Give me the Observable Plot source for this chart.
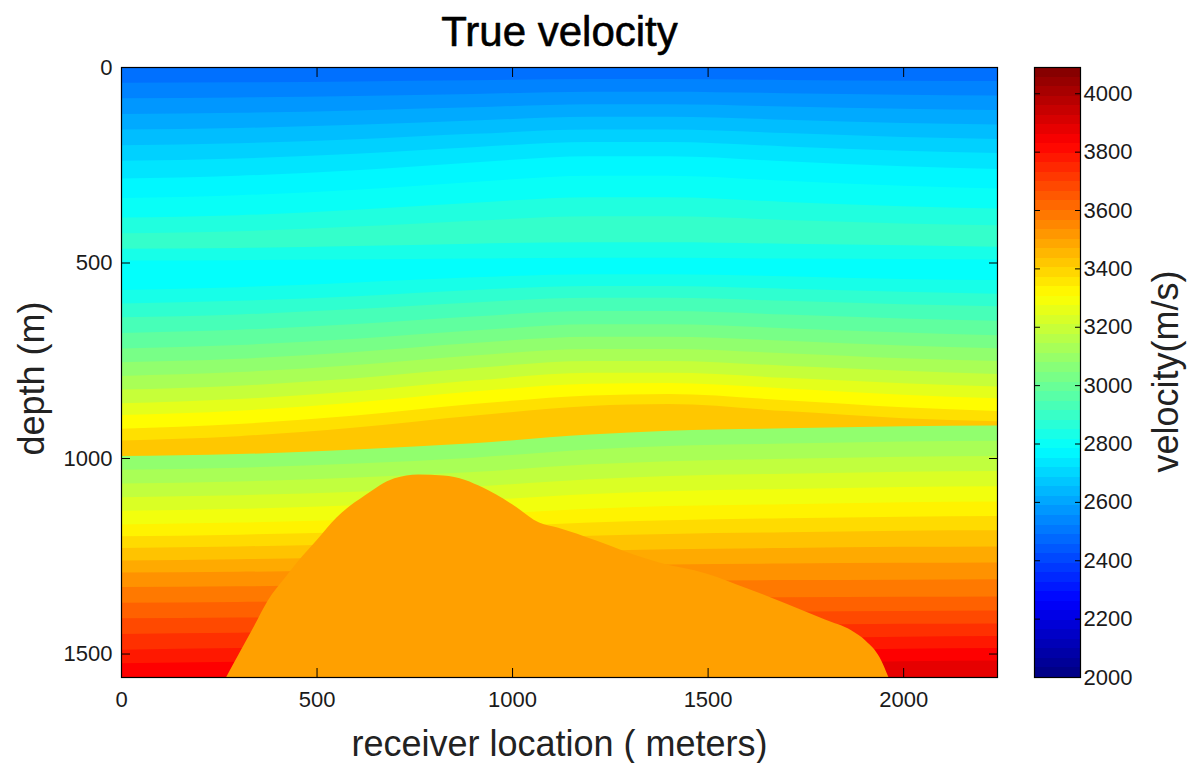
<!DOCTYPE html>
<html><head><meta charset="utf-8">
<script src="https://cdn.jsdelivr.net/npm/d3@7"></script>
<script src="https://cdn.jsdelivr.net/npm/@observablehq/plot@0.6"></script>
<style>
body{margin:0;background:#fff;}
#wrap{position:relative;width:1199px;height:763px;overflow:hidden;}
#main{position:absolute;left:0;top:0;}
#cbar{position:absolute;left:1010px;top:0;}
</style></head><body><div id="wrap"><div id="main"></div><div id="cbar"></div></div>
<script>
// ---------- data ----------
const titleText = "True velocity";
const xLabel = "receiver location ( meters)";
const yLabel = "depth (m)";
const cbLabel = "velocity(m/s)";

const xMax = 2240;          // receiver location extent (m)
const depthMax = 1560;      // depth extent (m)
const colorDomain = [2000, 4090];

const xTicks = [0, 500, 1000, 1500, 2000];
const yTicks = [0, 500, 1000, 1500];
const cbTicks = [2000, 2200, 2400, 2600, 2800, 3000, 3200, 3400, 3600, 3800, 4000];

// x positions where horizon depths were read
const xSamples = [0, 300, 600, 900, 1200, 1400, 1700, 2000, 2240];

// upper sediment package: velocity of the band below each horizon
const upperVelocities = [2490, 2530, 2570, 2610, 2650, 2690, 2730, 2770, 2800, 2850, 2890, 2830, 2790,
  2830, 2880, 2930, 2980, 3030, 3080, 3130, 3190, 3250, 3310, 3370, 3420];
const upperDepths = [
  [0, 0, 0, 0, 0, 0, 0, 0, 0],
  [40, 39, 37, 34, 31, 31, 33, 35, 36],
  [80, 78, 74, 69, 63, 63, 67, 71, 73],
  [120, 117, 111, 103, 95, 95, 101, 107, 110],
  [160, 156, 148, 137, 127, 127, 135, 143, 147],
  [200, 195, 185, 171, 160, 160, 169, 179, 184],
  [240, 234, 222, 205, 192, 192, 203, 214, 220],
  [285, 278, 264, 244, 228, 228, 241, 254, 261],
  [335, 328, 314, 294, 278, 278, 291, 304, 311],
  [385, 379, 365, 347, 333, 333, 345, 356, 362],
  [425, 420, 408, 393, 382, 382, 391, 400, 405],
  [465, 463, 458, 452, 448, 448, 452, 456, 460],
  [495, 494, 492, 490, 488, 488, 490, 491, 492],
  [570, 563, 551, 538, 530, 530, 535, 542, 545],
  [605, 598, 586, 570, 560, 560, 567, 575, 580],
  [640, 633, 619, 602, 590, 590, 598, 607, 612],
  [680, 672, 657, 638, 624, 624, 633, 643, 649],
  [720, 711, 695, 674, 658, 658, 668, 679, 686],
  [755, 746, 729, 706, 690, 690, 700, 712, 719],
  [790, 780, 762, 738, 721, 721, 732, 745, 752],
  [825, 815, 796, 770, 752, 752, 764, 777, 785],
  [860, 849, 829, 802, 782, 782, 795, 809, 817],
  [890, 879, 858, 830, 810, 808, 822, 838, 847],
  [925, 913, 891, 862, 840, 836, 852, 870, 880],
  [955, 944, 922, 892, 867, 862, 880, 898, 906]
];

// lower package (below the dipping interface)
const lowerVelocities = [3080, 3130, 3180, 3230, 3280, 3330, 3380, 3430, 3480, 3530, 3580, 3630,
  3680, 3730, 3780, 3830, 3880];
const lowerDepths = [
  [995, 990, 978, 962, 940, 930, 924, 919, 917],
  [1030, 1025, 1014, 999, 978, 969, 963, 958, 956],
  [1065, 1060, 1050, 1036, 1016, 1008, 1002, 997, 995],
  [1100, 1095, 1086, 1073, 1054, 1046, 1040, 1035, 1033],
  [1135, 1130, 1121, 1109, 1092, 1085, 1079, 1074, 1072],
  [1170, 1165, 1157, 1146, 1130, 1123, 1118, 1113, 1111],
  [1200, 1196, 1189, 1179, 1165, 1159, 1154, 1150, 1148],
  [1230, 1226, 1220, 1211, 1199, 1194, 1190, 1186, 1185],
  [1262, 1259, 1254, 1247, 1237, 1233, 1230, 1227, 1226],
  [1293, 1291, 1287, 1282, 1275, 1272, 1270, 1268, 1267],
  [1330, 1328, 1325, 1321, 1316, 1314, 1312, 1311, 1310],
  [1370, 1368, 1366, 1363, 1359, 1357, 1356, 1355, 1354],
  [1410, 1408, 1405, 1401, 1397, 1395, 1393, 1391, 1390],
  [1450, 1447, 1443, 1438, 1433, 1430, 1427, 1424, 1423],
  [1490, 1486, 1481, 1475, 1469, 1465, 1461, 1457, 1455],
  [1525, 1521, 1515, 1508, 1501, 1497, 1492, 1488, 1486],
  [1575, 1570, 1560, 1545, 1535, 1530, 1525, 1520, 1518]
];

// salt body outline (top of body) and its velocity
const saltVelocity = 3500;
const saltX =   [268, 300, 340, 375, 420, 454, 500, 551, 623, 699, 760, 824, 880, 924, 1000, 1069, 1118, 1215, 1284, 1376, 1496, 1600, 1700, 1800, 1868, 1904, 1940, 1963];
const saltTop = [1562, 1503, 1430, 1365, 1305, 1262, 1210, 1152, 1096, 1052, 1042, 1045, 1056, 1075, 1118, 1165, 1178, 1211, 1237, 1267, 1295, 1333, 1372, 1413, 1441, 1467, 1510, 1562];

// ---------- helpers ----------
function jet(t) {
  const c = x => Math.max(0, Math.min(1, x));
  const r = c(Math.min(4 * t - 1.5, -4 * t + 4.5));
  const g = c(Math.min(4 * t - 0.5, -4 * t + 3.5));
  const b = c(Math.min(4 * t + 0.5, -4 * t + 2.5));
  return `rgb(${Math.round(r * 255)},${Math.round(g * 255)},${Math.round(b * 255)})`;
}
const FONT = "'Liberation Sans', Arial, Helvetica, sans-serif";

const bandRows = [];
upperDepths.forEach((row, i) => row.forEach((d, j) => bandRows.push({id: "u" + i, x: xSamples[j], d, v: upperVelocities[i]})));
lowerDepths.forEach((row, i) => row.forEach((d, j) => bandRows.push({id: "l" + i, x: xSamples[j], d, v: lowerVelocities[i]})));
const saltRows = saltX.map((x, i) => ({x, d: saltTop[i], v: saltVelocity}));

const colorOpts = {type: "linear", domain: colorDomain, interpolate: jet};

const main = Plot.plot({
  width: 1010, height: 763,
  marginLeft: 121, marginRight: 13, marginTop: 67, marginBottom: 86,
  style: {fontFamily: FONT, background: "transparent", color: "#1a1a1a", overflow: "visible"},
  x: {domain: [0, xMax], label: null},
  y: {domain: [0, depthMax], reverse: true, label: null},
  color: colorOpts,
  marks: [
    Plot.areaY(bandRows, {x: "x", y1: "d", y2: () => depthMax, z: "id", fill: "v", curve: "monotone-x", clip: true}),
    Plot.areaY(saltRows, {x: "x", y1: "d", y2: () => depthMax, fill: "v", curve: "monotone-x", clip: true}),
    Plot.frame({stroke: "#000", strokeWidth: 1.2}),
    Plot.axisX({ticks: xTicks, tickSize: 0, tickPadding: 14, tickFormat: "d", fontSize: 22, label: null}),
    Plot.axisX({ticks: xTicks, tickSize: 9, dy: -9, tickFormat: () => "", label: null, stroke: "#000"}),
    Plot.axisX({anchor: "top", ticks: xTicks, tickSize: 9, dy: 9, tickFormat: () => "", label: null, stroke: "#000"}),
    Plot.axisY({ticks: yTicks, tickSize: 0, tickPadding: 9, tickFormat: "d", fontSize: 22, label: null}),
    Plot.axisY({ticks: yTicks, tickSize: 9, dx: 9, tickFormat: () => "", label: null, stroke: "#000"}),
    Plot.axisY({anchor: "right", ticks: yTicks, tickSize: 9, dx: -9, tickFormat: () => "", label: null, stroke: "#000"}),
    Plot.text([titleText], {frameAnchor: "top", lineAnchor: "middle", textAnchor: "middle", dy: -35, fontSize: 42, fill: "#000", stroke: "#000", strokeWidth: 0.6}),
    Plot.text([xLabel], {frameAnchor: "bottom", lineAnchor: "middle", textAnchor: "middle", dy: 67, fontSize: 36, fill: "#222"}),
    Plot.text([yLabel], {frameAnchor: "left", lineAnchor: "middle", textAnchor: "middle", rotate: -90, dx: -89, dy: 6, fontSize: 36, fill: "#222"})
  ]
});
document.getElementById("main").append(main);

const nSteps = 64;
const cbSteps = d3.range(nSteps).map(i => {
  const v0 = colorDomain[0] + i * (colorDomain[1] - colorDomain[0]) / nSteps;
  const v1 = colorDomain[0] + (i + 1) * (colorDomain[1] - colorDomain[0]) / nSteps;
  return {v0, v1, vm: (v0 + v1) / 2};
});

const cbar = Plot.plot({
  width: 189, height: 763,
  marginLeft: 24, marginRight: 119, marginTop: 67, marginBottom: 86,
  style: {fontFamily: FONT, background: "transparent", color: "#1a1a1a", overflow: "visible"},
  x: {domain: [0, 1], axis: null},
  y: {domain: colorDomain, label: null},
  color: colorOpts,
  marks: [
    Plot.rect(cbSteps, {x1: () => 0, x2: () => 1, y1: "v0", y2: "v1", fill: "vm", shapeRendering: "crispEdges"}),
    Plot.frame({stroke: "#000", strokeWidth: 1.2}),
    Plot.axisY({anchor: "right", ticks: cbTicks, tickSize: 0, tickPadding: 3, tickFormat: "d", fontSize: 22, label: null}),
    Plot.axisY({anchor: "right", ticks: cbTicks, tickSize: 6, dx: -6, tickFormat: () => "", label: null, stroke: "#000"}),
    Plot.axisY({anchor: "left", ticks: cbTicks, tickSize: 6, dx: 6, tickFormat: () => "", label: null, stroke: "#000"}),
    Plot.text([cbLabel], {frameAnchor: "right", lineAnchor: "middle", textAnchor: "middle", rotate: -90, dx: 86, dy: -1, fontSize: 36, fill: "#222"})
  ]
});
document.getElementById("cbar").append(cbar);
</script></body></html>
